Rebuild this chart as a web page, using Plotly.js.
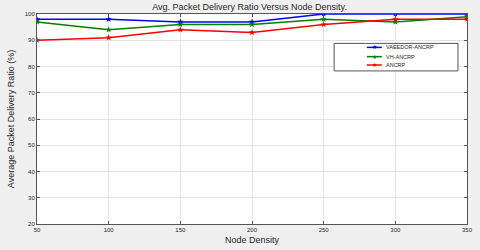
<!DOCTYPE html>
<html><head><meta charset="utf-8">
<script src="https://cdn.plot.ly/plotly-3.0.1.min.js"></script>
<style>body{margin:0;padding:0;background:#f0f0f0}#c{width:480px;height:250px}</style>
</head><body><div id="c"></div>
<script>
const nodeDensity = [50, 100, 150, 200, 250, 300, 350];
const vaeedor = [98, 98, 97, 97, 100, 100, 100];
const vhAncrp = [97, 94, 96, 96, 98, 97, 99];
const ancrp = [90, 91, 94, 93, 96, 98, 98];
const seriesNames = ['VAEEDOR-ANCRP', 'VH-ANCRP', 'ANCRP'];
const colors = ['#0000ff', '#008000', '#ff0000'];
const ys = [vaeedor, vhAncrp, ancrp];
const traces = ys.map((y, i) => ({
  x: nodeDensity, y: y, name: seriesNames[i], type: 'scatter', mode: 'lines+markers',
  line: {color: colors[i], width: 1.5},
  marker: {symbol: 'star', size: 5, color: colors[i]}
}));
const font = {family: 'Liberation Sans, Arial, sans-serif', color: '#262626'};

// compact legend (styling only), MATLAB-like
const legBox = {x0: 0.691, x1: 0.979, y0: 0.729, y1: 0.860};
const rowY = [0.841, 0.797, 0.757];
const shapes = [{type: 'rect', xref: 'paper', yref: 'paper', x0: legBox.x0, x1: legBox.x1, y0: legBox.y0, y1: legBox.y1,
  fillcolor: '#ffffff', line: {color: '#555', width: 1}, layer: 'above'}];
const annotations = [];
seriesNames.forEach((n, i) => {
  shapes.push({type: 'line', xref: 'paper', yref: 'paper', x0: 0.767, x1: 0.802, y0: rowY[i], y1: rowY[i],
    line: {color: colors[i], width: 1.5}, layer: 'above'});
  annotations.push({xref: 'paper', yref: 'paper', x: 0.7845, y: rowY[i], text: '★', showarrow: false,
    font: {size: 6, color: colors[i]}, xanchor: 'center', yanchor: 'middle'});
  annotations.push({xref: 'paper', yref: 'paper', x: 0.806, y: rowY[i], text: n, showarrow: false,
    font: Object.assign({size: 5.5}, font), xanchor: 'left', yanchor: 'middle'});
});

Plotly.newPlot('c', traces, {
  width: 480, height: 250,
  paper_bgcolor: '#f0f0f0', plot_bgcolor: '#ffffff',
  margin: {l: 37, r: 13, t: 14, b: 26},
  title: {text: 'Avg. Packet Delivery Ratio Versus Node Density.', font: Object.assign({size: 9}, font), x: 0.52, xanchor: 'center', y: 0.985, yanchor: 'top'},
  xaxis: {range: [50, 350], tickvals: nodeDensity, ticks: 'inside', ticklen: 3, tickcolor: '#555',
    showline: true, mirror: 'ticks', linecolor: '#555', linewidth: 1,
    showgrid: true, gridcolor: '#e3e3e3', zeroline: false,
    tickfont: Object.assign({size: 6}, font),
    title: {text: 'Node Density', font: Object.assign({size: 9}, font), standoff: 4}},
  yaxis: {range: [20, 100], dtick: 10, ticks: 'inside', ticklen: 3, tickcolor: '#555',
    showline: true, mirror: 'ticks', linecolor: '#555', linewidth: 1,
    showgrid: true, gridcolor: '#e3e3e3', zeroline: false,
    tickfont: Object.assign({size: 6}, font),
    title: {text: 'Average Packet Delivery Ratio (%)', font: Object.assign({size: 9}, font), standoff: 8}},
  shapes: shapes,
  annotations: annotations,
  showlegend: false
}, {displayModeBar: false, staticPlot: true});
</script></body></html>
